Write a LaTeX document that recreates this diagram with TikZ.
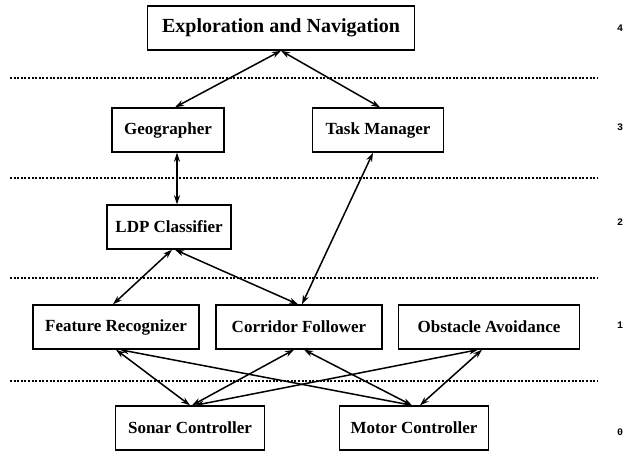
\documentclass[tikz,border=0pt]{standalone}
\usepackage{fontspec}
\setmainfont{Liberation Serif}
\setmonofont{Liberation Mono}
\usepackage{tikz}
\usetikzlibrary{arrows.meta}
\tikzset{
    layer/.style={
        draw, rectangle, line width=1.4pt,
        minimum height=44pt, inner sep=2pt, text=black,
        font=\fontsize{17}{19}\selectfont\bfseries
    }
}

\begin{document}
\begin{tikzpicture}[
        x=1pt, y=-1pt,
        link/.style={{Stealth[length=9pt,width=6pt]}-{Stealth[length=9pt,width=6pt]},
                     line width=1.5pt},
        sep/.style={line width=1.4pt, dash pattern=on 2pt off 1.6pt},
        level/.style={font=\fontsize{10}{11}\selectfont\ttfamily\bfseries}
      ]
    \useasboundingbox (0,0) rectangle (628,456);

    \node[layer,minimum width=267pt,font=\fontsize{20}{22}\selectfont\bfseries]
                                   (expl)  at (281,28)  {Exploration and Navigation};
    \node[layer,minimum width=112pt] (geo)   at (168,130) {Geographer};
    \node[layer,minimum width=131pt] (task)  at (378,130) {Task Manager};
    \node[layer,minimum width=124pt] (ldp)   at (169,227) {LDP Classifier};
    \node[layer,minimum width=166pt] (feat)  at (116,327) {Feature Recognizer};
    \node[layer,minimum width=166pt] (corr)  at (299,327) {Corridor Follower};
    \node[layer,minimum width=181pt] (obst)  at (489,327) {Obstacle Avoidance};
    \node[layer,minimum width=149pt] (sonar) at (190,428) {Sonar Controller};
    \node[layer,minimum width=149pt] (motor) at (414,428) {Motor Controller};

    % layer boundaries
    \foreach \y in {78,178,278,381}
        \draw[sep] (10,\y) -- (597,\y);

    % layer numbers
    \node[level] (l4) at (620,28)  {4};
    \node[level] (l3) at (620,127) {3};
    \node[level] (l2) at (620,222) {2};
    \node[level] (l1) at (620,325) {1};
    \node[level] (l0) at (620,432) {0};

    \draw[link] (expl.south) -- ([xshift=7pt]geo.north);
    \draw[link] (expl.south) -- ([xshift=2pt]task.north);
    \draw[link] ([xshift=9pt]geo.south) -- ([xshift=8pt]ldp.north);
    \draw[link] ([xshift=-5pt]task.south) -- ([xshift=3pt]corr.north);
    \draw[link] ([xshift=3pt]ldp.south) -- ([xshift=-3pt]feat.north);
    \draw[link] ([xshift=6pt]ldp.south) -- ([xshift=-1pt]corr.north);
    \draw[link] ([xshift=0pt]feat.south) -- ([xshift=0pt]sonar.north);
    \draw[link] ([xshift=4pt]feat.south) -- ([xshift=-2pt]motor.north);
    \draw[link] ([xshift=-5pt]corr.south) -- ([xshift=2pt]sonar.north);
    \draw[link] ([xshift=5pt]corr.south) -- ([xshift=-2pt]motor.north);
    \draw[link] ([xshift=-11pt]obst.south) -- ([xshift=5pt]sonar.north);
    \draw[link] ([xshift=-7pt]obst.south) -- ([xshift=6pt]motor.north);

\end{tikzpicture}
\end{document}
